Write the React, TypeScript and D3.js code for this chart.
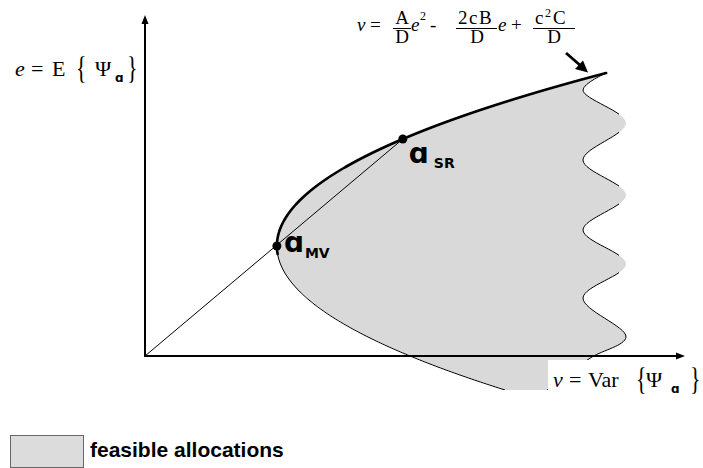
import React from "react";
import * as d3 from "d3";

// Mean–variance plane: v = variance, e = expected value
const V_DOMAIN = [0, 5.4];
const E_DOMAIN = [0, 3.41];

// Frontier coefficients: v = (A/D) e^2 - (2cB/D) e + c^2 C / D
const A = 1.1;
const B = 1.21;
const C = 2.65;
const D = 1;
const c = 1;

// Range of expected values covered by the frontier curve
const E_BOTTOM = -0.34;
const E_TOP = 2.83;

// Expected value of the maximum Sharpe-ratio allocation
const E_SR = 2.17;

// Ragged right edge of the feasible set (v, e), from top to bottom
const waveV = [4.611, 4.38, 4.81, 4.38, 4.81, 4.38, 4.81, 4.38, 4.81, 4.47, 4.2, 4.0];
const waveE = [2.83, 2.66, 2.33, 1.96, 1.61, 1.26, 0.92, 0.58, 0.19, -0.01, -0.19, -0.36];

const legendLabel = "feasible allocations";

const W = 703;
const H = 468;
const FILL = "#d9d9d9";

const frontierV = (e: number) => (A / D) * e * e - ((2 * c * B) / D) * e + (c * c * C) / D;

export default function App() {
  const x = d3.scaleLinear().domain(V_DOMAIN).range([145, 685]);
  const y = d3.scaleLinear().domain(E_DOMAIN).range([356, 15]);

  const eMV = (c * B) / A;
  const vMV = frontierV(eMV);
  const vSR = frontierV(E_SR);

  const lowerE = d3.range(E_BOTTOM, eMV, 0.01).concat([eMV]);
  const upperE = d3.range(eMV - 0.08, E_TOP, 0.01).concat([E_TOP]);
  const allE = lowerE.concat(d3.range(eMV + 0.01, E_TOP, 0.01)).concat([E_TOP]);

  const line = d3
    .line<number>()
    .x((e) => x(frontierV(e)))
    .y((e) => y(e));

  const wavePts = waveV.map((v, i) => [v, waveE[i]] as [number, number]);
  const waveLine = d3
    .line<[number, number]>()
    .x((d) => x(d[0]))
    .y((d) => y(d[1]))
    .curve(d3.curveCatmullRom.alpha(0.5));

  const frontierPath = line(allE) as string;
  const wavePath = waveLine(wavePts) as string;
  const regionPath = frontierPath + "L" + wavePath.slice(1) + "Z";

  const x0 = x(0);
  const y0 = y(0);
  const yTop = y(E_DOMAIN[1]);
  const xEnd = x(V_DOMAIN[1]);
  const yCut = y(E_BOTTOM);

  const serif = "'Liberation Serif', 'Times New Roman', serif";
  const sansBold = "'DejaVu Sans', sans-serif";
  const braceT = (cy: number) => `translate(0,${cy}) scale(1,1.45) translate(0,${-cy})`;

  return (
    <svg width={W} height={H} viewBox={`0 0 ${W} ${H}`} style={{ display: "block", position: "absolute", left: 0, top: 0 }}>
      <defs>
        <clipPath id="regionClip">
          <rect x={0} y={0} width={W} height={yCut} />
        </clipPath>
        <clipPath id="waveClip">
          <path d={`M0,0H${x(4.74)}V320H${W}V${H}H0Z`} />
        </clipPath>
      </defs>
      <rect width={W} height={H} fill="#fff" />

      {/* feasible set */}
      <g clipPath="url(#regionClip)">
        <path d={regionPath} fill={FILL} stroke="none" />
        <path d={line(lowerE) as string} fill="none" stroke="#000" strokeWidth={1} />
        <path d={wavePath} fill="none" stroke="#000" strokeWidth={1} clipPath="url(#waveClip)" />
      </g>

      {/* efficient frontier */}
      <path d={line(upperE) as string} fill="none" stroke="#000" strokeWidth={2.6} strokeLinecap="round" />

      {/* axes */}
      <line x1={x0} y1={y0} x2={x0} y2={yTop + 7} stroke="#000" strokeWidth={2} />
      <path d={`M${x0},${yTop}L${x0 - 3.5},${yTop + 9}L${x0 + 3.5},${yTop + 9}Z`} fill="#000" />
      <line x1={x0 - 1} y1={y0} x2={xEnd - 7} y2={y0} stroke="#000" strokeWidth={2} />
      <path d={`M${xEnd},${y0}L${xEnd - 9},${y0 - 3.5}L${xEnd - 9},${y0 + 3.5}Z`} fill="#000" />

      {/* capital market line through MV and SR */}
      <line x1={x0} y1={y0} x2={x(vSR)} y2={y(E_SR)} stroke="#000" strokeWidth={1} />
      <circle cx={x(vMV)} cy={y(eMV)} r={4.5} fill="#000" />
      <circle cx={x(vSR)} cy={y(E_SR)} r={4.5} fill="#000" />

      <text fontFamily={sansBold} fontWeight="bold" fill="#000">
        <tspan x={x(vSR) + 6} y={y(E_SR) + 24} fontSize={28}>ɑ</tspan>
        <tspan x={x(vSR) + 31} y={y(E_SR) + 29} fontSize={14}>SR</tspan>
      </text>
      <text fontFamily={sansBold} fontWeight="bold" fill="#000">
        <tspan x={x(vMV) + 7} y={y(eMV) + 6} fontSize={28}>ɑ</tspan>
        <tspan x={x(vMV) + 28} y={y(eMV) + 12} fontSize={14}>MV</tspan>
      </text>

      {/* y-axis title */}
      <g fontFamily={serif} fontSize={22} fill="#000">
        <text x={15} y={76} fontStyle="italic">e</text>
        <text x={31} y={76}>=</text>
        <text x={52} y={76}>E</text>
        <text x={76} y={76} transform={braceT(69)}>{"{"}</text>
        <text x={95} y={76}>Ψ</text>
        <text x={115} y={82} fontFamily={sansBold} fontWeight="bold" fontSize={12}>ɑ</text>
        <text x={127} y={76} transform={braceT(69)}>{"}"}</text>
      </g>

      {/* x-axis title on a white plate */}
      <rect x={548} y={360} width={W - 548} height={H - 360} fill="#fff" />
      <g fontFamily={serif} fontSize={22} fill="#000">
        <text x={553} y={387} fontStyle="italic">v</text>
        <text x={569} y={387}>=</text>
        <text x={588} y={387}>Var</text>
        <text x={636} y={387} transform={braceT(380)}>{"{"}</text>
        <text x={646} y={387}>Ψ</text>
        <text x={671} y={393} fontFamily={sansBold} fontWeight="bold" fontSize={12}>ɑ</text>
        <text x={690} y={387} transform={braceT(380)}>{"}"}</text>
      </g>

      {/* frontier equation */}
      <g fontFamily={serif} fontSize={19} fill="#000">
        <text x={357} y={31} fontStyle="italic">v</text>
        <text x={370} y={31}>=</text>
        <text x={402} y={24} textAnchor="middle">A</text>
        <line x1={393} x2={411} y1={28.5} y2={28.5} stroke="#000" strokeWidth={1} />
        <text x={402} y={43} textAnchor="middle">D</text>
        <text x={411} y={31} fontStyle="italic">e</text>
        <text x={420} y={20} fontSize={12}>2</text>
        <text x={430} y={31}>-</text>
        <text x={458} y={24} letterSpacing={1.5}>2cB</text>
        <line x1={456} x2={497} y1={28.5} y2={28.5} stroke="#000" strokeWidth={1} />
        <text x={477} y={43} textAnchor="middle">D</text>
        <text x={498} y={31} fontStyle="italic">e</text>
        <text x={511} y={31}>+</text>
        <text x={535} y={24}>c</text>
        <text x={545} y={17} fontSize={12}>2</text>
        <text x={553} y={24}>C</text>
        <line x1={533} x2={575} y1={28.5} y2={28.5} stroke="#000" strokeWidth={1} />
        <text x={554} y={43} textAnchor="middle">D</text>
      </g>

      {/* pointer from the equation to the frontier */}
      <line x1={566} y1={53} x2={581} y2={66} stroke="#000" strokeWidth={2.8} />
      <path d="M588,72.5L575,69L583,60.5Z" fill="#000" />

      {/* legend */}
      <rect x={10.5} y={435.5} width={73} height={32} fill="#dcdcdc" stroke="#666" strokeWidth={1} />
      <text x={90} y={457} fontFamily="'Liberation Sans', Arial, sans-serif" fontWeight="bold" fontSize={21} fill="#000">
        {legendLabel}
      </text>
    </svg>
  );
}
